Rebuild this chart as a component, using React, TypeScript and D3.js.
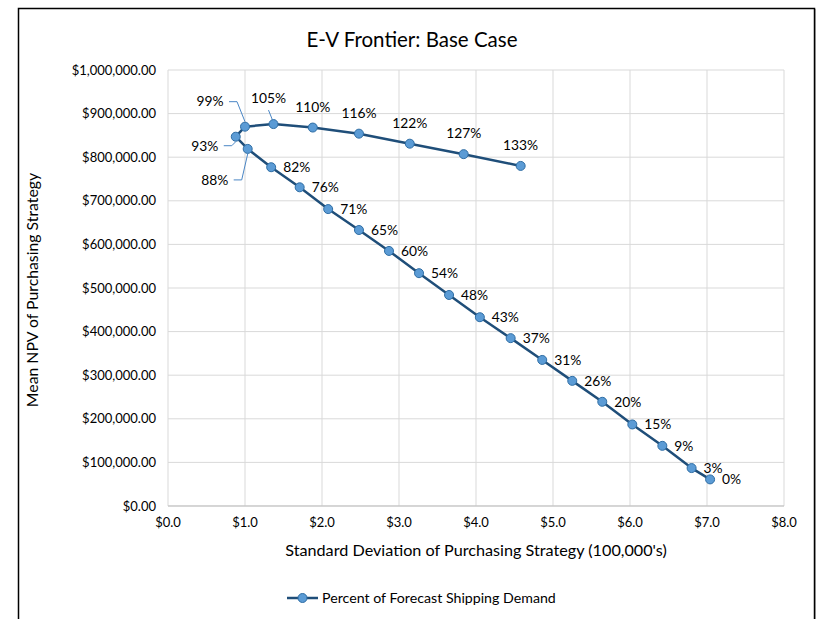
import React from "react";
import * as d3 from "d3";

const pctLabels = ["0%","3%","9%","15%","20%","26%","31%","37%","43%","48%","54%","60%","65%","71%","76%","82%","88%","93%","99%","105%","110%","116%","122%","127%","133%"];
const stdDev = [7.04,6.80,6.42,6.03,5.64,5.25,4.86,4.45,4.05,3.65,3.26,2.87,2.48,2.08,1.71,1.34,1.035,0.88,1.0,1.37,1.88,2.48,3.14,3.84,4.58];
const meanNpv = [61000,87000,138000,187000,239000,287000,335000,385000,433000,484000,534000,585000,633000,681000,731000,777000,819000,847000,870000,876000,868000,854000,831000,807000,780000];
const xTicks = [0,1,2,3,4,5,6,7,8];
const yTicks = [0,100000,200000,300000,400000,500000,600000,700000,800000,900000,1000000];

const title = "E-V Frontier: Base Case";
const xTitle = "Standard Deviation of Purchasing Strategy (100,000's)";
const yTitle = "Mean NPV of Purchasing Strategy";
const legendLabel = "Percent of Forecast Shipping Demand";

// label callouts with leader lines: [dx, dy] of the text centre from the point
const callouts: Record<string, [number, number]> = {
  "99%": [-35, -25],
  "93%": [-31, 9],
  "88%": [-33, 31],
  "105%": [-5, -26],
};

const FONT = "Lato, 'Open Sans', sans-serif";
const LINE = "#1F4E79";
const MFILL = "#5B9BD5";
const MSTROKE = "#2E6DA4";

export default function App() {
  const left = 168, right = 784, top = 70, bottom = 506;
  const x = d3.scaleLinear().domain([0, 8]).range([left, right]);
  const y = d3.scaleLinear().domain([0, 1000000]).range([bottom, top]);
  const pts = stdDev.map((v, i) => ({ x: x(v), y: y(meanNpv[i]), label: pctLabels[i], pct: parseFloat(pctLabels[i]) }));
  const line = d3.line<{ x: number; y: number }>().x(d => d.x).y(d => d.y);
  const yFmt = (v: number) => "$" + d3.format(",.2f")(v);
  const xFmt = (v: number) => "$" + d3.format(".1f")(v);
  const LFS = 13.8;

  return (
    <svg width={825} height={619} style={{ position: "absolute", left: 0, top: 0, background: "#fff" }} fontFamily={FONT}>
      <rect x={0} y={0} width={825} height={619} fill="#fff" />
      <rect x={19.5} y={9.5} width={796} height={640} fill="none" stroke="#BBBBBB" strokeWidth={1} />
      <rect x={18.5} y={8.5} width={796} height={640} fill="#fff" stroke="#000" strokeWidth={1.5} />
      <text x={412} y={47} textAnchor="middle" fontSize={20.5} fill="#000">{title}</text>

      {yTicks.map(t => (
        <line key={"gy" + t} x1={left} x2={right} y1={y(t)} y2={y(t)} stroke="#D9D9D9" strokeWidth={1} />
      ))}
      {xTicks.map(t => (
        <line key={"gx" + t} x1={x(t)} x2={x(t)} y1={top} y2={bottom} stroke="#D9D9D9" strokeWidth={1} />
      ))}
      <line x1={left} x2={right} y1={bottom} y2={bottom} stroke="#BFBFBF" strokeWidth={1} />

      {yTicks.map(t => (
        <text key={"ty" + t} x={156} y={y(t) + 4.5} textAnchor="end" fontSize={13} fill="#000">{yFmt(t)}</text>
      ))}
      {xTicks.map(t => (
        <text key={"tx" + t} x={x(t)} y={527} textAnchor="middle" fontSize={13} fill="#000">{xFmt(t)}</text>
      ))}

      <text x={476} y={556} textAnchor="middle" fontSize={16.2} fill="#000">{xTitle}</text>
      <text transform={`translate(38,${290}) rotate(-90)`} textAnchor="middle" fontSize={15.8} fill="#000">{yTitle}</text>

      <path d={line(pts) || ""} fill="none" stroke={LINE} strokeWidth={2.5} strokeLinejoin="round" />
      {pts.map((p, i) => (
        <circle key={"m" + i} cx={p.x} cy={p.y} r={4.5} fill={MFILL} stroke={MSTROKE} strokeWidth={1} />
      ))}

      {pts.map((p, i) => {
        const c = callouts[p.label];
        if (c) {
          const tx = p.x + c[0], ty = p.y + c[1];
          let path: string;
          if (p.label === "105%") {
            path = `M${tx},${ty + 12} L${p.x - 1},${p.y - 4}`;
          } else {
            const ex = tx + 19;
            path = `M${ex},${ty} L${ex + 8},${ty} L${p.x},${p.y + (ty < p.y ? -5 : 5)}`;
          }
          return (
            <g key={"l" + i}>
              <path d={path} fill="none" stroke="#4A86C5" strokeWidth={1} />
              <text x={tx} y={ty + 4.8} textAnchor="middle" fontSize={LFS} fill="#000">{p.label}</text>
            </g>
          );
        }
        const above = p.pct >= 99;
        return above ? (
          <text key={"l" + i} x={p.x} y={p.y - 16} textAnchor="middle" fontSize={LFS} fill="#000">{p.label}</text>
        ) : (
          <text key={"l" + i} x={p.x + 12} y={p.y + 4.8} textAnchor="start" fontSize={LFS} fill="#000">{p.label}</text>
        );
      })}

      <line x1={287} x2={318} y1={598} y2={598} stroke={LINE} strokeWidth={2.5} />
      <circle cx={302.5} cy={598} r={4.5} fill={MFILL} stroke={MSTROKE} strokeWidth={1} />
      <text x={322} y={602.5} fontSize={14.2} fill="#000">{legendLabel}</text>
    </svg>
  );
}
